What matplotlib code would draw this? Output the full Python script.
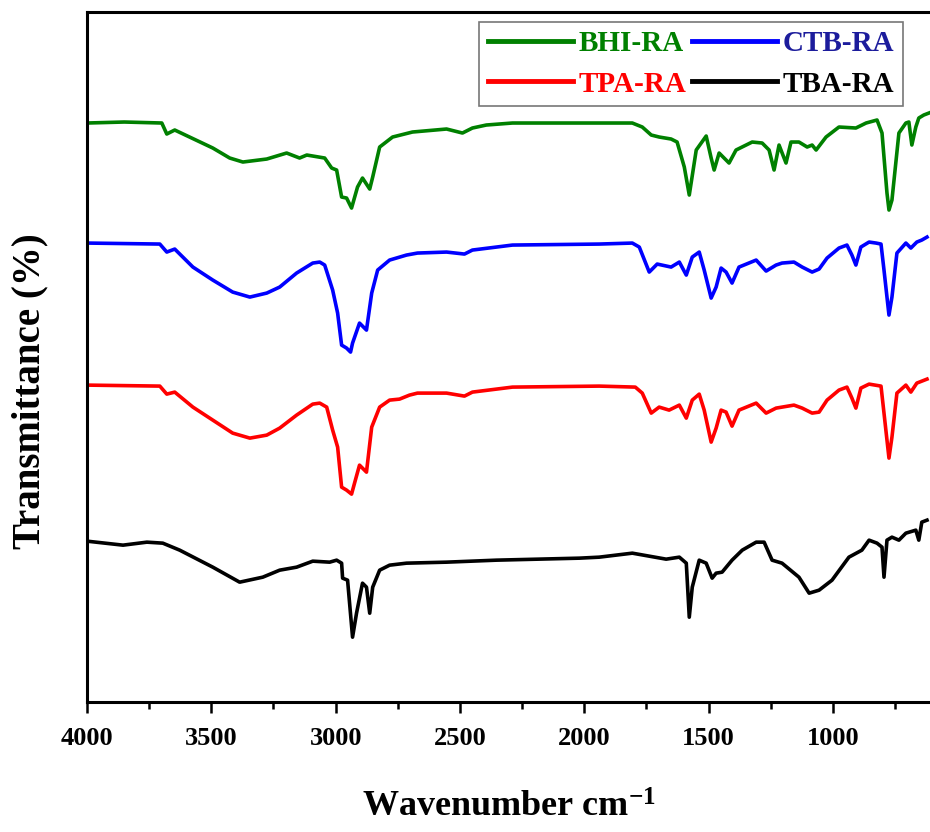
import matplotlib
matplotlib.use("Agg")
import matplotlib.pyplot as plt
from matplotlib.ticker import MultipleLocator

plt.rcParams['font.family'] = ['Liberation Serif', 'DejaVu Serif']
plt.rcParams['font.weight'] = 'bold'
plt.rcParams['mathtext.fontset'] = 'custom'
plt.rcParams['mathtext.rm'] = 'Liberation Serif:bold'
plt.rcParams['mathtext.bf'] = 'Liberation Serif:bold'
plt.rcParams['mathtext.default'] = 'bf'

# BHI-RA (green), offset transmittance
wn_bhi = [4000, 3850, 3699, 3679, 3647, 3494, 3426, 3373, 3277, 3197,
          3145, 3116, 3044, 3016, 2996, 2976, 2956, 2936, 2912, 2892,
          2863, 2851, 2823, 2771, 2691, 2554, 2490, 2450, 2394, 2289,
          1940, 1807, 1767, 1731, 1699, 1651, 1627, 1598, 1578, 1550,
          1510, 1490, 1478, 1458, 1418, 1390, 1325, 1285, 1257, 1237,
          1217, 1189, 1169, 1137, 1104, 1084, 1068, 1028, 976, 908,
          867, 823, 803, 783, 775, 763, 735, 707, 695, 683,
          667, 655, 635, 614]
t_bhi = [579, 580, 579, 568, 572, 554, 544, 540, 543, 549,
         544, 547, 544, 534, 532, 505, 504, 494, 515, 524,
         513, 525, 555, 565, 570, 573, 569, 574, 577, 579,
         579, 579, 575, 567, 565, 563, 560, 535, 507, 552,
         566, 544, 532, 549, 539, 552, 560, 559, 552, 532,
         557, 539, 560, 560, 555, 557, 552, 565, 575, 574,
         579, 582, 569, 509, 492, 502, 569, 579, 580, 557,
         575, 584, 587, 589]

# CTB-RA (blue)
wn_ctb = [4000, 3707, 3679, 3647, 3574, 3494, 3414, 3345, 3277, 3225,
          3157, 3092, 3064, 3044, 3012, 2992, 2976, 2956, 2940, 2932,
          2904, 2876, 2855, 2831, 2783, 2715, 2671, 2554, 2482, 2450,
          2289, 1940, 1807, 1779, 1739, 1707, 1651, 1618, 1590, 1566,
          1538, 1518, 1490, 1470, 1450, 1430, 1406, 1378, 1309, 1269,
          1229, 1205, 1157, 1124, 1084, 1056, 1024, 976, 944, 924,
          908, 888, 855, 827, 807, 795, 775, 763, 743, 707,
          687, 663, 643, 622]
t_ctb = [459, 458, 450, 453, 435, 422, 410, 405, 409, 415,
         429, 439, 440, 437, 412, 389, 357, 354, 350, 359,
         379, 372, 409, 432, 442, 447, 449, 450, 448, 452,
         457, 458, 459, 455, 430, 438, 435, 440, 427, 445,
         450, 432, 404, 415, 434, 430, 419, 435, 442, 431,
         437, 439, 440, 435, 430, 433, 444, 454, 457, 447,
         437, 455, 460, 459, 458, 432, 387, 405, 449, 459,
         454, 460, 462, 465]

# TPA-RA (red)
wn_tpa = [4000, 3707, 3679, 3647, 3574, 3494, 3414, 3345, 3277, 3225,
          3157, 3092, 3064, 3036, 3012, 2992, 2976, 2956, 2936, 2924,
          2904, 2876, 2855, 2823, 2783, 2743, 2703, 2671, 2554, 2482,
          2450, 2289, 1940, 1795, 1767, 1731, 1699, 1659, 1618, 1590,
          1566, 1538, 1518, 1490, 1470, 1450, 1430, 1406, 1378, 1309,
          1269, 1229, 1157, 1124, 1084, 1056, 1024, 976, 944, 924,
          908, 888, 855, 807, 795, 775, 763, 743, 707, 687,
          663, 622]
t_tpa = [317, 316, 308, 310, 295, 282, 269, 264, 267, 274,
         287, 298, 299, 295, 272, 255, 215, 212, 208, 219,
         237, 230, 275, 295, 302, 303, 307, 309, 309, 306,
         310, 315, 316, 315, 309, 289, 295, 292, 297, 284,
         302, 308, 292, 260, 274, 292, 290, 276, 292, 299,
         289, 294, 297, 294, 289, 290, 302, 312, 315, 304,
         294, 314, 318, 316, 289, 244, 265, 309, 317, 310,
         319, 323]

# TBA-RA (black)
wn_tba = [4000, 3855, 3759, 3695, 3627, 3494, 3386, 3293, 3225, 3157,
          3092, 3024, 2996, 2976, 2972, 2952, 2932, 2916, 2892, 2876,
          2863, 2851, 2823, 2783, 2715, 2554, 2353, 2020, 1940, 1807,
          1671, 1618, 1590, 1578, 1566, 1538, 1510, 1486, 1470, 1446,
          1406, 1365, 1309, 1277, 1245, 1205, 1137, 1096, 1056, 1004,
          936, 884, 855, 823, 803, 795, 783, 763, 735, 707,
          667, 655, 643, 622]
t_tba = [161, 157, 160, 159, 152, 135, 120, 125, 132, 135,
         141, 140, 142, 139, 124, 122, 65, 89, 119, 115,
         89, 115, 132, 137, 139, 140, 142, 144, 145, 149,
         143, 145, 139, 85, 115, 142, 139, 124, 129, 130,
         142, 152, 160, 160, 142, 139, 125, 109, 112, 122,
         145, 152, 162, 159, 155, 125, 162, 165, 162, 169,
         172, 162, 180, 182]

series = {
    "BHI-RA": (wn_bhi, t_bhi, "#008000", "#008000"),
    "CTB-RA": (wn_ctb, t_ctb, "#0000ff", "#1c1c9c"),
    "TPA-RA": (wn_tpa, t_tpa, "#ff0000", "#ff0000"),
    "TBA-RA": (wn_tba, t_tba, "#000000", "#000000"),
}
# legend fills column by column: this gives rows BHI/CTB and TPA/TBA
legend_order = ["BHI-RA", "TPA-RA", "CTB-RA", "TBA-RA"]

fig = plt.figure(figsize=(9.3, 8.32), dpi=100)
ax = fig.add_axes([0.0935, 0.156, 0.9065, 0.8296])

lines = {}
for label, (x, y, color, _) in series.items():
    lines[label], = ax.plot(x, y, color=color, linewidth=2.6, label=label)

ax.set_xlim(4000, 610)
ax.set_ylim(0, 690)
ax.set_yticks([])
ax.xaxis.set_major_locator(MultipleLocator(500))
ax.xaxis.set_minor_locator(MultipleLocator(250))
ax.tick_params(axis='x', which='major', direction='out', length=8, width=1.8,
               labelsize=19, pad=10)
ax.tick_params(axis='x', which='minor', direction='out', length=5, width=1.8)
for side in ['left', 'bottom', 'top']:
    ax.spines[side].set_linewidth(2.2)
ax.spines['right'].set_visible(False)

ax.set_xlabel('Wavenumber cm$^{-1}$', fontsize=26, fontweight='bold', labelpad=30)
ax.set_ylabel('Transmittance (%)', fontsize=28, fontweight='bold', va='center')
ax.yaxis.set_label_coords(-0.068, 0.45)

leg = ax.legend([lines[k] for k in legend_order], legend_order,
                loc='upper right', bbox_to_anchor=(0.968, 0.986), ncol=2,
                fontsize=21, frameon=True, fancybox=False, borderaxespad=0,
                handlelength=2.9, handletextpad=0.2, columnspacing=0.2,
                borderpad=0.3, labelspacing=0.45)
leg.get_frame().set_edgecolor('#555555')
leg.get_frame().set_linewidth(1.2)
for text, key in zip(leg.get_texts(), legend_order):
    text.set_color(series[key][3])
    text.set_fontweight('bold')
for h in leg.get_lines():
    h.set_linewidth(3.5)

fig.savefig('out.png', dpi=100)
